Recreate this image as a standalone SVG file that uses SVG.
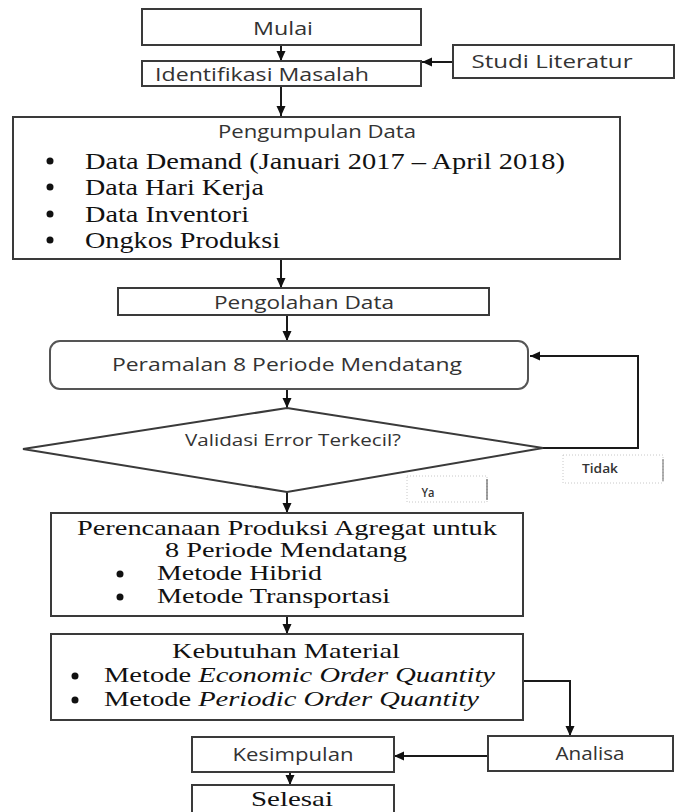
<svg xmlns="http://www.w3.org/2000/svg" width="676" height="812" viewBox="0 0 676 812">
<defs>
<marker id="ah" markerWidth="10" markerHeight="10" refX="10" refY="5" orient="auto" markerUnits="userSpaceOnUse"><path d="M0,0.5 L10,5 L0,9.5 z" fill="#111"/></marker>
<style>
.box{fill:#fff;stroke:#3a3a3a;stroke-width:2}
.lbl{stroke:#c8c8c8;stroke-width:1;stroke-dasharray:1 2;fill:#fff}
.sans{font-family:"Open Sans","Liberation Sans",sans-serif;fill:#333;font-size:19px;font-weight:500}
.serif{font-family:"Liberation Serif","Times New Roman",serif;fill:#111;font-size:21px}
.c{text-anchor:middle}
.arr{fill:none;stroke:#1a1a1a;stroke-width:2;marker-end:url(#ah)}
.dot{fill:#111}
</style>
</defs>
<rect width="676" height="812" fill="#fff"/>

<g id="connectors">
<line class="arr" x1="281" y1="45" x2="281" y2="61"/>
<line class="arr" x1="453" y1="62" x2="422" y2="62"/>
<line class="arr" x1="281" y1="86" x2="281" y2="116"/>
<line class="arr" x1="281" y1="259" x2="281" y2="288"/>
<line class="arr" x1="287" y1="315" x2="287" y2="341"/>
<line class="arr" x1="287" y1="389" x2="287" y2="408"/>
<polyline class="arr" points="543,448 638,448 638,356 530,356"/>
<line class="arr" x1="287" y1="492" x2="287" y2="513"/>
<line class="arr" x1="287" y1="616" x2="287" y2="634"/>
<polyline class="arr" points="523,681 570,681 570,736"/>
<line class="arr" x1="488" y1="756" x2="394" y2="756"/>
<line class="arr" x1="290" y1="772" x2="290" y2="785"/>
</g>

<g id="mulai">
<rect class="box" x="142" y="9" width="279" height="36"/>
<text class="sans c" x="283" y="35" textLength="60" lengthAdjust="spacingAndGlyphs">Mulai</text>
</g>

<g id="identifikasi">
<rect class="box" x="142" y="61" width="279" height="25"/>
<text class="sans c" x="262" y="81" textLength="214" lengthAdjust="spacingAndGlyphs">Identifikasi Masalah</text>
</g>

<g id="studi">
<rect class="box" x="453" y="45" width="221" height="33"/>
<text class="sans c" x="552" y="68" textLength="161" lengthAdjust="spacingAndGlyphs">Studi Literatur</text>
</g>

<g id="pengumpulan">
<rect class="box" x="13" y="117" width="607" height="142"/>
<text class="sans c" x="317" y="138" textLength="198" lengthAdjust="spacingAndGlyphs">Pengumpulan Data</text>
<circle class="dot" cx="50" cy="161" r="3.5"/>
<circle class="dot" cx="50" cy="187" r="3.5"/>
<circle class="dot" cx="50" cy="214" r="3.5"/>
<circle class="dot" cx="50" cy="240" r="3.5"/>
<text class="serif" x="85" y="169" style="font-size:24px" textLength="480" lengthAdjust="spacingAndGlyphs">Data Demand (Januari 2017 – April 2018)</text>
<text class="serif" x="85" y="195" style="font-size:24px" textLength="179" lengthAdjust="spacingAndGlyphs">Data Hari Kerja</text>
<text class="serif" x="85" y="222" style="font-size:24px" textLength="164" lengthAdjust="spacingAndGlyphs">Data Inventori</text>
<text class="serif" x="85" y="248" style="font-size:24px" textLength="195" lengthAdjust="spacingAndGlyphs">Ongkos Produksi</text>
</g>

<g id="pengolahan">
<rect class="box" x="118" y="288" width="371" height="27"/>
<text class="sans c" x="304" y="309" textLength="180" lengthAdjust="spacingAndGlyphs">Pengolahan Data</text>
</g>

<g id="peramalan">
<rect class="box" x="50" y="341" width="478" height="48" rx="10" ry="10" style="stroke:#555"/>
<text class="sans c" x="287" y="371" textLength="350" lengthAdjust="spacingAndGlyphs">Peramalan 8 Periode Mendatang</text>
</g>

<g id="validasi">
<polygon class="box" points="287,408 543,448 287,492 23,449"/>
<text class="sans c" x="293" y="446" style="font-size:16px" textLength="216" lengthAdjust="spacingAndGlyphs">Validasi Error Terkecil?</text>
</g>

<g id="tidak">
<rect class="lbl" x="563" y="455" width="100" height="28"/>
<line x1="663" y1="459" x2="663" y2="481" stroke="#666" stroke-width="1"/>
<text class="sans c" x="600" y="473" style="font-size:12px;font-weight:600" textLength="36" lengthAdjust="spacingAndGlyphs">Tidak</text>
</g>

<g id="ya">
<rect class="lbl" x="407" y="476" width="80" height="26"/>
<line x1="487" y1="479" x2="487" y2="500" stroke="#444" stroke-width="1"/>
<text class="sans c" x="428" y="497" style="font-size:12px;font-weight:600" textLength="13" lengthAdjust="spacingAndGlyphs">Ya</text>
</g>

<g id="perencanaan">
<rect class="box" x="51" y="513" width="472" height="103"/>
<text class="serif c" x="287" y="535" textLength="420" lengthAdjust="spacingAndGlyphs">Perencanaan Produksi Agregat untuk</text>
<text class="serif c" x="286" y="557" textLength="242" lengthAdjust="spacingAndGlyphs">8 Periode Mendatang</text>
<circle class="dot" cx="120" cy="574" r="3.5"/>
<circle class="dot" cx="120" cy="597" r="3.5"/>
<text class="serif" x="157" y="580" textLength="165" lengthAdjust="spacingAndGlyphs">Metode Hibrid</text>
<text class="serif" x="157" y="603" textLength="233" lengthAdjust="spacingAndGlyphs">Metode Transportasi</text>
</g>

<g id="kebutuhan">
<rect class="box" x="51" y="634" width="472" height="86"/>
<text class="serif c" x="286" y="658" textLength="228" lengthAdjust="spacingAndGlyphs">Kebutuhan Material</text>
<circle class="dot" cx="75" cy="676" r="3.5"/>
<circle class="dot" cx="75" cy="700" r="3.5"/>
<text class="serif" x="104" y="682" textLength="391" lengthAdjust="spacingAndGlyphs">Metode <tspan font-style="italic">Economic Order Quantity</tspan></text>
<text class="serif" x="104" y="706" textLength="375" lengthAdjust="spacingAndGlyphs">Metode <tspan font-style="italic">Periodic Order Quantity</tspan></text>
</g>

<g id="analisa">
<rect class="box" x="488" y="736" width="185" height="35"/>
<text class="sans c" x="590" y="760" textLength="69" lengthAdjust="spacingAndGlyphs">Analisa</text>
</g>

<g id="kesimpulan">
<rect class="box" x="192" y="737" width="202" height="35"/>
<text class="sans c" x="293" y="761" textLength="121" lengthAdjust="spacingAndGlyphs">Kesimpulan</text>
</g>

<g id="selesai">
<rect class="box" x="192" y="785" width="202" height="40"/>
<text class="serif c" x="292" y="806" textLength="82" lengthAdjust="spacingAndGlyphs">Selesai</text>
</g>
</svg>
